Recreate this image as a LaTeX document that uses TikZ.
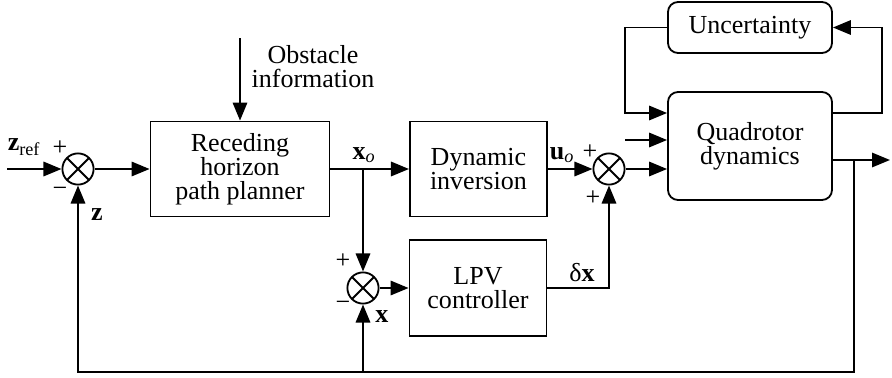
\documentclass[tikz,border=0pt]{standalone}
\usepackage{fontspec}
\setmainfont{Liberation Serif}
\usetikzlibrary{positioning,arrows.meta}

\begin{document}
\begin{tikzpicture}[
  block/.style={draw, line width=1.3pt, align=center, minimum width=3.425cm,
                minimum height=2.375cm, font=\rmfamily\fontsize{18.5}{17}\selectfont},
  rblock/.style={block, rounded corners=0.25cm, minimum width=4.1cm},
  sumnode/.style={circle, draw, line width=1.3pt, minimum size=0.78cm, inner sep=0pt,
                  path picture={\draw[line width=1.3pt]
                    (path picture bounding box.north west) -- (path picture bounding box.south east)
                    (path picture bounding box.south west) -- (path picture bounding box.north east);}},
  arrow/.style={-{Triangle[length=0.45cm, width=0.36cm]}, line width=1.4pt},
  tag/.style={font=\rmfamily\fontsize{18.5}{17}\selectfont, inner sep=0pt}
]
\useasboundingbox (0,0) rectangle (22.3,9.425);

% blocks
\node[block, minimum width=4.475cm] (planner) at (6.0,5.2) {Receding\\horizon\\path planner};
\node[block] (dyn) at (11.96,5.2) {Dynamic\\inversion};
\node[block, minimum height=2.4cm] (lpv) at (11.95,2.225) {LPV\\controller};
\node[rblock, minimum height=2.7cm] (quad) at (18.75,5.775) {Quadrotor\\dynamics};
\node[rblock, minimum height=1.275cm] (unc) at (18.75,8.7375) {Uncertainty};

% summing junctions
\node[sumnode] (s1) at (1.95,5.2) {};
\node[sumnode] (s2) at (15.225,5.2) {};
\node[sumnode] (s3) at (9.075,2.225) {};

% free ends
\coordinate (zin) at (0.175,5.2);
\coordinate (obs) at (6.0,8.475);
\coordinate (br) at (9.075,5.2);
\coordinate (out) at (22.25,5.425);
\coordinate (fb) at (21.35,5.425);
\coordinate (bot) at (1.95,0.125);
\coordinate (ur) at (22.05,6.6);
\coordinate (ul) at (15.625,6.6);
\coordinate (din) at (15.625,5.925);

% forward path
\draw[arrow] (zin) -- (s1);
\draw[arrow] (s1) -- (planner);
\draw[arrow] (obs) -- (planner.north);
\draw[arrow] (planner) -- (dyn);
\draw[arrow] (br) -- (s3);
\draw[arrow] (s3) -- (lpv);
\draw[arrow] (dyn) -- (s2);
\draw[arrow] (lpv.east) -| (s2);
\draw[arrow] (s2) -- (s2 -| quad.west);
\draw[arrow] (din) -- (din -| quad.west);
\draw[arrow] (out -| quad.east) -- (out);

% uncertainty loop
\draw[arrow] (ur -| quad.east) -- (ur) |- (unc.east);
\draw[arrow] (unc.west) -| (ul) -- (ul -| quad.west);

% feedback
\draw[arrow] (fb) |- (bot) -- (s1);
\draw[arrow] (s3 |- bot) -- (s3);

% labels
\node[tag] (zref) at (0.6,5.75) {\textbf{z}\textsubscript{ref}};
\node[tag, align=center] (obstxt) at (7.825,7.75) {Obstacle\\information};
\node[tag] (xo) at (9.1,5.55) {\textbf{x}\textsubscript{\textit{o}}};
\node[tag] (uo) at (14.05,5.55) {\textbf{u}\textsubscript{\textit{o}}};
\node[tag] (dx) at (14.55,2.6) {δ\textbf{x}};
\node[tag] (zfb) at (2.425,4.05) {\textbf{z}};
\node[tag] (xfb) at (9.55,1.5) {\textbf{x}};
\node[tag] (p1) at (1.5,5.725) {+};
\node[tag] (m1) at (1.5,4.625) {−};
\node[tag] (p2) at (14.75,5.625) {+};
\node[tag] (p3) at (14.825,4.475) {+};
\node[tag] (p4) at (8.575,2.9) {+};
\node[tag] (m4) at (8.575,1.775) {−};
\end{tikzpicture}
\end{document}
